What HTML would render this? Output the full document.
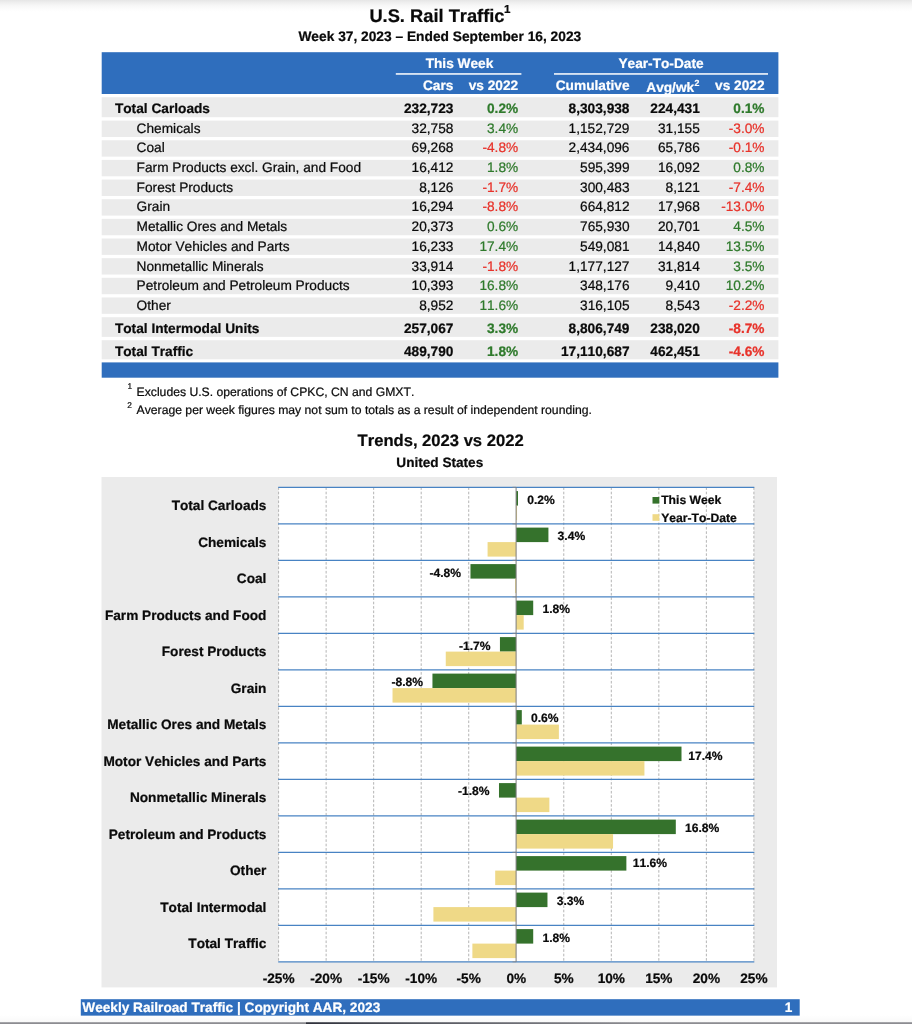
<!DOCTYPE html>
<html lang="en">
<head>
<meta charset="utf-8">
<title>U.S. Rail Traffic</title>
<style>
html,body{margin:0;padding:0;}
body{width:912px;height:1024px;position:relative;overflow:hidden;background:#fff;}
svg{position:absolute;left:0;top:0;font-family:"Liberation Sans",Arial,Helvetica,sans-serif;font-weight:bold;font-kerning:none;text-rendering:geometricPrecision;color:#0a0a0a;}
text{fill:currentColor;stroke:currentColor;stroke-width:0.22px;}
.topshade{position:absolute;left:0;top:0;width:912px;height:12px;background:linear-gradient(#e6e6e6 0,#f0f0f0 25%,#f8f8f8 50%,#fdfdfd 78%,#fff 100%);}
.botshade{position:absolute;left:0;top:1015px;width:912px;height:6.5px;background:linear-gradient(rgba(255,255,255,0),rgba(249,249,249,1));}
.botline{position:absolute;left:0;top:1021.6px;width:912px;height:2.4px;background:linear-gradient(rgba(255,255,255,.4),rgba(255,255,255,0) 55%),linear-gradient(90deg,#8c8c91 0,#8c8c91 305.5px,#2e303a 306px,#55575f 420px,#8c8c91 640px);}
</style>
</head>
<body>
<div class="topshade"></div>
<svg width="912" height="1024" viewBox="0 0 912 1024">
<text x="369.40" y="22.20" font-size="18.3">U.S. Rail Traffic</text>
<text x="504.00" y="13.00" font-size="11.6">1</text>
<text x="439.80" y="40.60" font-size="13.76" text-anchor="middle">Week 37, 2023 &#8211; Ended September 16, 2023</text>
<rect x="101.70" y="52.20" width="676.70" height="41.80" fill="#2f6ebd"/>
<text x="459.50" y="68.20" font-size="13.7" text-anchor="middle" color="#fff">This Week</text>
<text x="661.00" y="68.20" font-size="13.7" text-anchor="middle" color="#fff">Year-To-Date</text>
<rect x="395.80" y="73.20" width="125.60" height="1.50" fill="#fff"/>
<rect x="554.00" y="73.20" width="214.00" height="1.50" fill="#fff"/>
<text x="453.40" y="89.70" font-size="13.7" text-anchor="end" color="#fff">Cars</text>
<text x="518.20" y="89.70" font-size="13.7" text-anchor="end" color="#fff">vs 2022</text>
<text x="629.50" y="89.70" font-size="13.7" text-anchor="end" color="#fff">Cumulative</text>
<text x="694.20" y="92.00" font-size="13.7" text-anchor="end" color="#fff">Avg/wk</text>
<text x="694.60" y="86.00" font-size="8.8" color="#fff">2</text>
<text x="764.50" y="89.70" font-size="13.7" text-anchor="end" color="#fff">vs 2022</text>
<rect x="101.70" y="97.20" width="676.70" height="20.00" fill="#ebebeb"/>
<text x="114.90" y="112.90" font-size="13.7">Total Carloads</text>
<text x="453.40" y="112.90" font-size="13.7" text-anchor="end">232,723</text>
<text x="518.20" y="112.90" font-size="13.7" text-anchor="end" color="#2f7a2c">0.2%</text>
<text x="629.50" y="112.90" font-size="13.7" text-anchor="end">8,303,938</text>
<text x="699.80" y="112.90" font-size="13.7" text-anchor="end">224,431</text>
<text x="764.50" y="112.90" font-size="13.7" text-anchor="end" color="#2f7a2c">0.1%</text>
<rect x="101.70" y="120.60" width="676.70" height="16.40" fill="#ebebeb"/>
<text x="136.60" y="132.60" font-size="13.7" font-weight="normal">Chemicals</text>
<text x="453.40" y="132.60" font-size="13.7" text-anchor="end" font-weight="normal">32,758</text>
<text x="518.20" y="132.60" font-size="13.7" text-anchor="end" font-weight="normal" color="#2f7a2c">3.4%</text>
<text x="629.50" y="132.60" font-size="13.7" text-anchor="end" font-weight="normal">1,152,729</text>
<text x="699.80" y="132.60" font-size="13.7" text-anchor="end" font-weight="normal">31,155</text>
<text x="764.50" y="132.60" font-size="13.7" text-anchor="end" font-weight="normal" color="#e8322a">-3.0%</text>
<rect x="101.70" y="140.25" width="676.70" height="16.40" fill="#ebebeb"/>
<text x="136.60" y="152.32" font-size="13.7" font-weight="normal">Coal</text>
<text x="453.40" y="152.32" font-size="13.7" text-anchor="end" font-weight="normal">69,268</text>
<text x="518.20" y="152.32" font-size="13.7" text-anchor="end" font-weight="normal" color="#e8322a">-4.8%</text>
<text x="629.50" y="152.32" font-size="13.7" text-anchor="end" font-weight="normal">2,434,096</text>
<text x="699.80" y="152.32" font-size="13.7" text-anchor="end" font-weight="normal">65,786</text>
<text x="764.50" y="152.32" font-size="13.7" text-anchor="end" font-weight="normal" color="#e8322a">-0.1%</text>
<rect x="101.70" y="159.90" width="676.70" height="16.40" fill="#ebebeb"/>
<text x="136.60" y="172.04" font-size="13.7" font-weight="normal">Farm Products excl. Grain, and Food</text>
<text x="453.40" y="172.04" font-size="13.7" text-anchor="end" font-weight="normal">16,412</text>
<text x="518.20" y="172.04" font-size="13.7" text-anchor="end" font-weight="normal" color="#2f7a2c">1.8%</text>
<text x="629.50" y="172.04" font-size="13.7" text-anchor="end" font-weight="normal">595,399</text>
<text x="699.80" y="172.04" font-size="13.7" text-anchor="end" font-weight="normal">16,092</text>
<text x="764.50" y="172.04" font-size="13.7" text-anchor="end" font-weight="normal" color="#2f7a2c">0.8%</text>
<rect x="101.70" y="179.55" width="676.70" height="16.40" fill="#ebebeb"/>
<text x="136.60" y="191.76" font-size="13.7" font-weight="normal">Forest Products</text>
<text x="453.40" y="191.76" font-size="13.7" text-anchor="end" font-weight="normal">8,126</text>
<text x="518.20" y="191.76" font-size="13.7" text-anchor="end" font-weight="normal" color="#e8322a">-1.7%</text>
<text x="629.50" y="191.76" font-size="13.7" text-anchor="end" font-weight="normal">300,483</text>
<text x="699.80" y="191.76" font-size="13.7" text-anchor="end" font-weight="normal">8,121</text>
<text x="764.50" y="191.76" font-size="13.7" text-anchor="end" font-weight="normal" color="#e8322a">-7.4%</text>
<rect x="101.70" y="199.20" width="676.70" height="16.40" fill="#ebebeb"/>
<text x="136.60" y="211.48" font-size="13.7" font-weight="normal">Grain</text>
<text x="453.40" y="211.48" font-size="13.7" text-anchor="end" font-weight="normal">16,294</text>
<text x="518.20" y="211.48" font-size="13.7" text-anchor="end" font-weight="normal" color="#e8322a">-8.8%</text>
<text x="629.50" y="211.48" font-size="13.7" text-anchor="end" font-weight="normal">664,812</text>
<text x="699.80" y="211.48" font-size="13.7" text-anchor="end" font-weight="normal">17,968</text>
<text x="764.50" y="211.48" font-size="13.7" text-anchor="end" font-weight="normal" color="#e8322a">-13.0%</text>
<rect x="101.70" y="218.85" width="676.70" height="16.40" fill="#ebebeb"/>
<text x="136.60" y="231.20" font-size="13.7" font-weight="normal">Metallic Ores and Metals</text>
<text x="453.40" y="231.20" font-size="13.7" text-anchor="end" font-weight="normal">20,373</text>
<text x="518.20" y="231.20" font-size="13.7" text-anchor="end" font-weight="normal" color="#2f7a2c">0.6%</text>
<text x="629.50" y="231.20" font-size="13.7" text-anchor="end" font-weight="normal">765,930</text>
<text x="699.80" y="231.20" font-size="13.7" text-anchor="end" font-weight="normal">20,701</text>
<text x="764.50" y="231.20" font-size="13.7" text-anchor="end" font-weight="normal" color="#2f7a2c">4.5%</text>
<rect x="101.70" y="238.50" width="676.70" height="16.40" fill="#ebebeb"/>
<text x="136.60" y="250.92" font-size="13.7" font-weight="normal">Motor Vehicles and Parts</text>
<text x="453.40" y="250.92" font-size="13.7" text-anchor="end" font-weight="normal">16,233</text>
<text x="518.20" y="250.92" font-size="13.7" text-anchor="end" font-weight="normal" color="#2f7a2c">17.4%</text>
<text x="629.50" y="250.92" font-size="13.7" text-anchor="end" font-weight="normal">549,081</text>
<text x="699.80" y="250.92" font-size="13.7" text-anchor="end" font-weight="normal">14,840</text>
<text x="764.50" y="250.92" font-size="13.7" text-anchor="end" font-weight="normal" color="#2f7a2c">13.5%</text>
<rect x="101.70" y="258.15" width="676.70" height="16.40" fill="#ebebeb"/>
<text x="136.60" y="270.64" font-size="13.7" font-weight="normal">Nonmetallic Minerals</text>
<text x="453.40" y="270.64" font-size="13.7" text-anchor="end" font-weight="normal">33,914</text>
<text x="518.20" y="270.64" font-size="13.7" text-anchor="end" font-weight="normal" color="#e8322a">-1.8%</text>
<text x="629.50" y="270.64" font-size="13.7" text-anchor="end" font-weight="normal">1,177,127</text>
<text x="699.80" y="270.64" font-size="13.7" text-anchor="end" font-weight="normal">31,814</text>
<text x="764.50" y="270.64" font-size="13.7" text-anchor="end" font-weight="normal" color="#2f7a2c">3.5%</text>
<rect x="101.70" y="277.80" width="676.70" height="16.40" fill="#ebebeb"/>
<text x="136.60" y="290.36" font-size="13.7" font-weight="normal">Petroleum and Petroleum Products</text>
<text x="453.40" y="290.36" font-size="13.7" text-anchor="end" font-weight="normal">10,393</text>
<text x="518.20" y="290.36" font-size="13.7" text-anchor="end" font-weight="normal" color="#2f7a2c">16.8%</text>
<text x="629.50" y="290.36" font-size="13.7" text-anchor="end" font-weight="normal">348,176</text>
<text x="699.80" y="290.36" font-size="13.7" text-anchor="end" font-weight="normal">9,410</text>
<text x="764.50" y="290.36" font-size="13.7" text-anchor="end" font-weight="normal" color="#2f7a2c">10.2%</text>
<rect x="101.70" y="297.45" width="676.70" height="16.40" fill="#ebebeb"/>
<text x="136.60" y="310.08" font-size="13.7" font-weight="normal">Other</text>
<text x="453.40" y="310.08" font-size="13.7" text-anchor="end" font-weight="normal">8,952</text>
<text x="518.20" y="310.08" font-size="13.7" text-anchor="end" font-weight="normal" color="#2f7a2c">11.6%</text>
<text x="629.50" y="310.08" font-size="13.7" text-anchor="end" font-weight="normal">316,105</text>
<text x="699.80" y="310.08" font-size="13.7" text-anchor="end" font-weight="normal">8,543</text>
<text x="764.50" y="310.08" font-size="13.7" text-anchor="end" font-weight="normal" color="#e8322a">-2.2%</text>
<rect x="101.70" y="317.20" width="676.70" height="19.70" fill="#ebebeb"/>
<text x="114.90" y="332.80" font-size="13.7">Total Intermodal Units</text>
<text x="453.40" y="332.80" font-size="13.7" text-anchor="end">257,067</text>
<text x="518.20" y="332.80" font-size="13.7" text-anchor="end" color="#2f7a2c">3.3%</text>
<text x="629.50" y="332.80" font-size="13.7" text-anchor="end">8,806,749</text>
<text x="699.80" y="332.80" font-size="13.7" text-anchor="end">238,020</text>
<text x="764.50" y="332.80" font-size="13.7" text-anchor="end" color="#e8322a">-8.7%</text>
<rect x="101.70" y="340.20" width="676.70" height="19.10" fill="#ebebeb"/>
<text x="114.90" y="355.80" font-size="13.7">Total Traffic</text>
<text x="453.40" y="355.80" font-size="13.7" text-anchor="end">489,790</text>
<text x="518.20" y="355.80" font-size="13.7" text-anchor="end" color="#2f7a2c">1.8%</text>
<text x="629.50" y="355.80" font-size="13.7" text-anchor="end">17,110,687</text>
<text x="699.80" y="355.80" font-size="13.7" text-anchor="end">462,451</text>
<text x="764.50" y="355.80" font-size="13.7" text-anchor="end" color="#e8322a">-4.6%</text>
<rect x="101.70" y="362.40" width="676.70" height="15.30" fill="#2f6ebd"/>
<text x="127.60" y="389.40" font-size="8.3" font-weight="normal">1</text>
<text x="136.60" y="395.60" font-size="12.2" font-weight="normal">Excludes U.S. operations of CPKC, CN and GMXT.</text>
<text x="127.20" y="407.90" font-size="8.3" font-weight="normal">2</text>
<text x="136.60" y="413.90" font-size="12.2" font-weight="normal">Average per week figures may not sum to totals as a result of independent rounding.</text>
<text x="440.60" y="445.70" font-size="16.6" text-anchor="middle">Trends, 2023 vs 2022</text>
<text x="439.80" y="467.00" font-size="13.6" text-anchor="middle">United States</text>
<rect x="101.50" y="477.00" width="675.50" height="510.40" fill="#ebebeb"/>
<rect x="278.60" y="487.30" width="475.30" height="474.50" fill="#fff"/>
<line x1="278.60" y1="487.3" x2="278.60" y2="961.8" stroke="#b4b4b4" stroke-width="1" stroke-dasharray="2.6 1.8"/>
<line x1="326.13" y1="487.3" x2="326.13" y2="961.8" stroke="#b4b4b4" stroke-width="1" stroke-dasharray="2.6 1.8"/>
<line x1="373.66" y1="487.3" x2="373.66" y2="961.8" stroke="#b4b4b4" stroke-width="1" stroke-dasharray="2.6 1.8"/>
<line x1="421.19" y1="487.3" x2="421.19" y2="961.8" stroke="#b4b4b4" stroke-width="1" stroke-dasharray="2.6 1.8"/>
<line x1="468.72" y1="487.3" x2="468.72" y2="961.8" stroke="#b4b4b4" stroke-width="1" stroke-dasharray="2.6 1.8"/>
<line x1="563.78" y1="487.3" x2="563.78" y2="961.8" stroke="#b4b4b4" stroke-width="1" stroke-dasharray="2.6 1.8"/>
<line x1="611.31" y1="487.3" x2="611.31" y2="961.8" stroke="#b4b4b4" stroke-width="1" stroke-dasharray="2.6 1.8"/>
<line x1="658.84" y1="487.3" x2="658.84" y2="961.8" stroke="#b4b4b4" stroke-width="1" stroke-dasharray="2.6 1.8"/>
<line x1="706.37" y1="487.3" x2="706.37" y2="961.8" stroke="#b4b4b4" stroke-width="1" stroke-dasharray="2.6 1.8"/>
<line x1="753.90" y1="487.3" x2="753.90" y2="961.8" stroke="#b4b4b4" stroke-width="1" stroke-dasharray="2.6 1.8"/>
<rect x="516.10" y="491.10" width="1.90" height="14.5" fill="#35722c"/>
<rect x="516.10" y="505.60" width="0.95" height="14.5" fill="#efd987"/>
<rect x="516.10" y="527.60" width="32.32" height="14.5" fill="#35722c"/>
<rect x="487.58" y="542.10" width="28.52" height="14.5" fill="#efd987"/>
<rect x="470.47" y="564.10" width="45.63" height="14.5" fill="#35722c"/>
<rect x="515.15" y="578.60" width="0.95" height="14.5" fill="#efd987"/>
<rect x="516.10" y="600.60" width="17.11" height="14.5" fill="#35722c"/>
<rect x="516.10" y="615.10" width="7.60" height="14.5" fill="#efd987"/>
<rect x="499.94" y="637.10" width="16.16" height="14.5" fill="#35722c"/>
<rect x="445.76" y="651.60" width="70.34" height="14.5" fill="#efd987"/>
<rect x="432.45" y="673.60" width="83.65" height="14.5" fill="#35722c"/>
<rect x="392.52" y="688.10" width="123.58" height="14.5" fill="#efd987"/>
<rect x="516.10" y="710.10" width="5.70" height="14.5" fill="#35722c"/>
<rect x="516.10" y="724.60" width="42.78" height="14.5" fill="#efd987"/>
<rect x="516.10" y="746.60" width="165.40" height="14.5" fill="#35722c"/>
<rect x="516.10" y="761.10" width="128.33" height="14.5" fill="#efd987"/>
<rect x="498.99" y="783.10" width="17.11" height="14.5" fill="#35722c"/>
<rect x="516.10" y="797.60" width="33.27" height="14.5" fill="#efd987"/>
<rect x="516.10" y="819.60" width="159.70" height="14.5" fill="#35722c"/>
<rect x="516.10" y="834.10" width="96.96" height="14.5" fill="#efd987"/>
<rect x="516.10" y="856.10" width="110.27" height="14.5" fill="#35722c"/>
<rect x="495.19" y="870.60" width="20.91" height="14.5" fill="#efd987"/>
<rect x="516.10" y="892.60" width="31.37" height="14.5" fill="#35722c"/>
<rect x="433.40" y="907.10" width="82.70" height="14.5" fill="#efd987"/>
<rect x="516.10" y="929.10" width="17.11" height="14.5" fill="#35722c"/>
<rect x="472.37" y="943.60" width="43.73" height="14.5" fill="#efd987"/>
<line x1="278.20000000000005" y1="487.30" x2="754.3" y2="487.30" stroke="#4883c3" stroke-width="1.35"/>
<line x1="512.5" y1="487.30" x2="516.1" y2="487.30" stroke="#8c8c8c" stroke-width="0.8"/>
<line x1="278.20000000000005" y1="523.80" x2="754.3" y2="523.80" stroke="#4883c3" stroke-width="1.35"/>
<line x1="512.5" y1="523.80" x2="516.1" y2="523.80" stroke="#8c8c8c" stroke-width="0.8"/>
<line x1="278.20000000000005" y1="560.30" x2="754.3" y2="560.30" stroke="#4883c3" stroke-width="1.35"/>
<line x1="512.5" y1="560.30" x2="516.1" y2="560.30" stroke="#8c8c8c" stroke-width="0.8"/>
<line x1="278.20000000000005" y1="596.80" x2="754.3" y2="596.80" stroke="#4883c3" stroke-width="1.35"/>
<line x1="512.5" y1="596.80" x2="516.1" y2="596.80" stroke="#8c8c8c" stroke-width="0.8"/>
<line x1="278.20000000000005" y1="633.30" x2="754.3" y2="633.30" stroke="#4883c3" stroke-width="1.35"/>
<line x1="512.5" y1="633.30" x2="516.1" y2="633.30" stroke="#8c8c8c" stroke-width="0.8"/>
<line x1="278.20000000000005" y1="669.80" x2="754.3" y2="669.80" stroke="#4883c3" stroke-width="1.35"/>
<line x1="512.5" y1="669.80" x2="516.1" y2="669.80" stroke="#8c8c8c" stroke-width="0.8"/>
<line x1="278.20000000000005" y1="706.30" x2="754.3" y2="706.30" stroke="#4883c3" stroke-width="1.35"/>
<line x1="512.5" y1="706.30" x2="516.1" y2="706.30" stroke="#8c8c8c" stroke-width="0.8"/>
<line x1="278.20000000000005" y1="742.80" x2="754.3" y2="742.80" stroke="#4883c3" stroke-width="1.35"/>
<line x1="512.5" y1="742.80" x2="516.1" y2="742.80" stroke="#8c8c8c" stroke-width="0.8"/>
<line x1="278.20000000000005" y1="779.30" x2="754.3" y2="779.30" stroke="#4883c3" stroke-width="1.35"/>
<line x1="512.5" y1="779.30" x2="516.1" y2="779.30" stroke="#8c8c8c" stroke-width="0.8"/>
<line x1="278.20000000000005" y1="815.80" x2="754.3" y2="815.80" stroke="#4883c3" stroke-width="1.35"/>
<line x1="512.5" y1="815.80" x2="516.1" y2="815.80" stroke="#8c8c8c" stroke-width="0.8"/>
<line x1="278.20000000000005" y1="852.30" x2="754.3" y2="852.30" stroke="#4883c3" stroke-width="1.35"/>
<line x1="512.5" y1="852.30" x2="516.1" y2="852.30" stroke="#8c8c8c" stroke-width="0.8"/>
<line x1="278.20000000000005" y1="888.80" x2="754.3" y2="888.80" stroke="#4883c3" stroke-width="1.35"/>
<line x1="512.5" y1="888.80" x2="516.1" y2="888.80" stroke="#8c8c8c" stroke-width="0.8"/>
<line x1="278.20000000000005" y1="925.30" x2="754.3" y2="925.30" stroke="#4883c3" stroke-width="1.35"/>
<line x1="512.5" y1="925.30" x2="516.1" y2="925.30" stroke="#8c8c8c" stroke-width="0.8"/>
<line x1="278.20000000000005" y1="961.80" x2="754.3" y2="961.80" stroke="#4883c3" stroke-width="1.35"/>
<line x1="512.5" y1="961.80" x2="516.1" y2="961.80" stroke="#8c8c8c" stroke-width="0.8"/>
<line x1="516.1" y1="487.3" x2="516.1" y2="961.8" stroke="#7c7c7c" stroke-width="1"/>
<text x="266.40" y="510.25" font-size="13.65" text-anchor="end">Total Carloads</text>
<text x="527.20" y="503.65" font-size="12.1">0.2%</text>
<text x="266.40" y="546.75" font-size="13.65" text-anchor="end">Chemicals</text>
<text x="557.62" y="540.15" font-size="12.1">3.4%</text>
<text x="266.40" y="583.25" font-size="13.65" text-anchor="end">Coal</text>
<text x="461.07" y="576.65" font-size="12.1" text-anchor="end">-4.8%</text>
<text x="266.40" y="619.75" font-size="13.65" text-anchor="end">Farm Products and Food</text>
<text x="542.41" y="613.15" font-size="12.1">1.8%</text>
<text x="266.40" y="656.25" font-size="13.65" text-anchor="end">Forest Products</text>
<text x="490.54" y="649.65" font-size="12.1" text-anchor="end">-1.7%</text>
<text x="266.40" y="692.75" font-size="13.65" text-anchor="end">Grain</text>
<text x="423.05" y="686.15" font-size="12.1" text-anchor="end">-8.8%</text>
<text x="266.40" y="729.25" font-size="13.65" text-anchor="end">Metallic Ores and Metals</text>
<text x="531.00" y="722.00" font-size="12.1">0.6%</text>
<text x="266.40" y="765.75" font-size="13.65" text-anchor="end">Motor Vehicles and Parts</text>
<text x="688.20" y="760.00" font-size="12.1">17.4%</text>
<text x="266.40" y="802.25" font-size="13.65" text-anchor="end">Nonmetallic Minerals</text>
<text x="489.59" y="795.00" font-size="12.1" text-anchor="end">-1.8%</text>
<text x="266.40" y="838.75" font-size="13.65" text-anchor="end">Petroleum and Products</text>
<text x="685.00" y="832.15" font-size="12.1">16.8%</text>
<text x="266.40" y="875.25" font-size="13.65" text-anchor="end">Other</text>
<text x="632.77" y="867.00" font-size="12.1">11.6%</text>
<text x="266.40" y="911.75" font-size="13.65" text-anchor="end">Total Intermodal</text>
<text x="556.67" y="905.15" font-size="12.1">3.3%</text>
<text x="266.40" y="948.25" font-size="13.65" text-anchor="end">Total Traffic</text>
<text x="542.41" y="941.65" font-size="12.1">1.8%</text>
<text x="278.60" y="982.80" font-size="13.65" text-anchor="middle">-25%</text>
<text x="326.13" y="982.80" font-size="13.65" text-anchor="middle">-20%</text>
<text x="373.66" y="982.80" font-size="13.65" text-anchor="middle">-15%</text>
<text x="421.19" y="982.80" font-size="13.65" text-anchor="middle">-10%</text>
<text x="468.72" y="982.80" font-size="13.65" text-anchor="middle">-5%</text>
<text x="516.25" y="982.80" font-size="13.65" text-anchor="middle">0%</text>
<text x="563.78" y="982.80" font-size="13.65" text-anchor="middle">5%</text>
<text x="611.31" y="982.80" font-size="13.65" text-anchor="middle">10%</text>
<text x="658.84" y="982.80" font-size="13.65" text-anchor="middle">15%</text>
<text x="706.37" y="982.80" font-size="13.65" text-anchor="middle">20%</text>
<text x="753.90" y="982.80" font-size="13.65" text-anchor="middle">25%</text>
<rect x="652.50" y="497.00" width="6.80" height="6.60" fill="#35722c"/>
<text x="661.20" y="504.00" font-size="12.17">This Week</text>
<rect x="652.50" y="514.20" width="6.80" height="6.60" fill="#efd987"/>
<text x="661.20" y="521.60" font-size="12.17">Year-To-Date</text>
<rect x="80.80" y="999.20" width="718.90" height="16.50" fill="#2f6ebd"/>
<text x="82.30" y="1011.80" font-size="13.65" color="#fff">Weekly Railroad Traffic | Copyright AAR, 2023</text>
<text x="792.30" y="1011.80" font-size="13.65" text-anchor="end" color="#fff">1</text>
</svg>
<div class="botshade"></div><div class="botline"></div>
</body>
</html>
